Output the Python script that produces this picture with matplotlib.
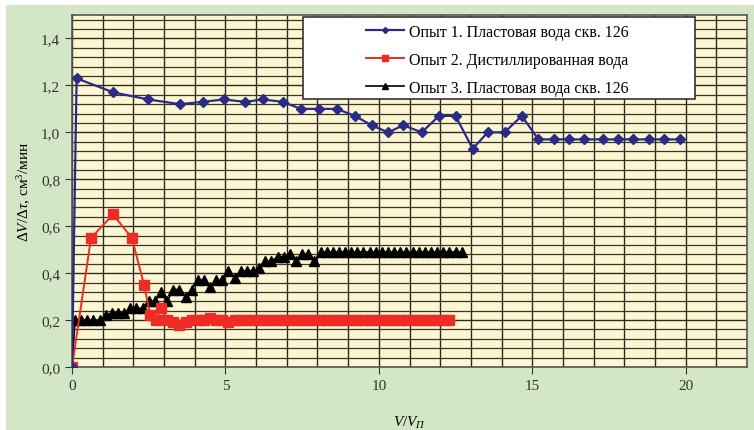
import numpy as np
import matplotlib.pyplot as plt
from matplotlib.patches import Rectangle

plt.rcParams['font.family'] = ['Liberation Serif', 'DejaVu Serif']
plt.rcParams['mathtext.fontset'] = 'custom'
plt.rcParams['mathtext.rm'] = 'Liberation Serif'
plt.rcParams['mathtext.it'] = 'Liberation Serif:italic'

# Опыт 1. Пластовая вода скв. 126
x1 = [0, 0.15, 1.35, 2.49, 3.52, 4.26, 4.95, 5.64, 6.22, 6.87, 7.46, 8.05, 8.63,
      9.22, 9.77, 10.3, 10.8, 11.4, 11.96, 12.5, 13.06, 13.55, 14.1, 14.66,
      15.2, 15.7, 16.2, 16.7, 17.3, 17.8, 18.3, 18.8, 19.3, 19.8]
y1 = [0, 1.23, 1.17, 1.14, 1.12, 1.13, 1.14, 1.13, 1.14, 1.13, 1.10, 1.10, 1.10,
      1.07, 1.03, 1.00, 1.03, 1.00, 1.07, 1.07, 0.93, 1.00, 1.00, 1.07,
      0.97, 0.97, 0.97, 0.97, 0.97, 0.97, 0.97, 0.97, 0.97, 0.97]

# Опыт 2. Дистиллированная вода
x2 = [0, 0.62, 1.34, 1.95, 2.35, 2.55, 2.75, 2.9,
      3.1, 3.3, 3.5, 3.7, 3.9, 4.1, 4.3, 4.5, 4.7, 4.9, 5.1, 5.3, 5.5, 5.7, 5.9,
      6.1, 6.3, 6.5, 6.7, 6.9, 7.1, 7.3, 7.5, 7.7, 7.9, 8.1, 8.3, 8.5, 8.7, 8.9,
      9.1, 9.3, 9.5, 9.7, 9.9, 10.1, 10.3, 10.5, 10.7, 10.9, 11.1, 11.3, 11.5,
      11.7, 11.9, 12.1, 12.3]
y2 = [0, 0.55, 0.65, 0.55, 0.35, 0.22, 0.20, 0.25,
      0.20, 0.19, 0.18, 0.19, 0.20, 0.20, 0.20, 0.21, 0.20, 0.20, 0.19, 0.20, 0.20, 0.20, 0.20,
      0.20, 0.20, 0.20, 0.20, 0.20, 0.20, 0.20, 0.20, 0.20, 0.20, 0.20, 0.20, 0.20, 0.20, 0.20,
      0.20, 0.20, 0.20, 0.20, 0.20, 0.20, 0.20, 0.20, 0.20, 0.20, 0.20, 0.20, 0.20,
      0.20, 0.20, 0.20, 0.20]

# Опыт 3. Пластовая вода скв. 126
x3 = [0, 0.1, 0.3, 0.5, 0.7, 0.9, 1.1, 1.3, 1.5, 1.7, 1.9, 2.1, 2.3, 2.5, 2.7,
      2.9, 3.1, 3.3, 3.5, 3.7, 3.9, 4.1, 4.3, 4.5, 4.7, 4.9, 5.1, 5.3, 5.5,
      5.7, 5.9, 6.1, 6.3, 6.5, 6.7, 6.9, 7.1, 7.3, 7.5, 7.7, 7.9, 8.1, 8.3,
      8.5, 8.7, 8.9, 9.1, 9.3, 9.5, 9.7, 9.9, 10.1, 10.3, 10.5, 10.7, 10.9,
      11.1, 11.3, 11.5, 11.7, 11.9, 12.1, 12.3, 12.5, 12.7]
y3 = [0, 0.20, 0.20, 0.20, 0.20, 0.20, 0.22, 0.23, 0.23, 0.23, 0.25, 0.25, 0.25, 0.28, 0.28,
      0.32, 0.28, 0.33, 0.33, 0.30, 0.33, 0.37, 0.37, 0.34, 0.37, 0.37, 0.41, 0.38, 0.41,
      0.41, 0.41, 0.42, 0.45, 0.45, 0.47, 0.47, 0.48, 0.45, 0.48, 0.48, 0.45, 0.49, 0.49,
      0.49, 0.49, 0.49, 0.49, 0.49, 0.49, 0.49, 0.49, 0.49, 0.49, 0.49, 0.49, 0.49,
      0.49, 0.49, 0.49, 0.49, 0.49, 0.49, 0.49, 0.49, 0.49]

labels = ['Опыт 1. Пластовая вода скв. 126',
          'Опыт 2. Дистиллированная вода',
          'Опыт 3. Пластовая вода скв. 126']

fig = plt.figure(figsize=(7.54, 4.31), dpi=100, facecolor='white')
fig.add_artist(Rectangle((6 / 754, 0), 1, 1 - 6 / 431, transform=fig.transFigure,
                         facecolor='#d3e7c6', edgecolor='none', zorder=-10))
ax = fig.add_axes([72 / 754, 1 - 368 / 431, 675 / 754, 352 / 431])
ax.set_facecolor('#fcf7d2')

ax.set_xlim(0, 22)
ax.set_ylim(0, 1.5)
ax.set_xticks([0, 5, 10, 15, 20])
ax.set_xticks(range(0, 23), minor=True)
ax.set_yticks([0, 0.2, 0.4, 0.6, 0.8, 1.0, 1.2, 1.4])
ax.set_yticks(np.arange(0, 1.5, 0.04), minor=True)
ax.set_yticklabels(['0,0', '0,2', '0,4', '0,6', '0,8', '1,0', '1,2', '1,4'])
ax.grid(which='minor', axis='x', color='#2e2a22', lw=1.0)
ax.grid(which='minor', axis='y', color='#3a3528', lw=0.9)
ax.grid(which='major', color='#2e2a22', lw=1.0)
ax.tick_params(which='minor', length=0)
ax.tick_params(which='major', length=5, direction='out', labelsize=11, colors='#333333')
for s in ax.spines.values():
    s.set_color('#555555')
    s.set_linewidth(1.2)
ax.set_axisbelow(True)

ax.plot(x3, y3, color='black', lw=1.2, marker='^', ms=6.5, label=labels[2], zorder=3)
ax.plot(x2, y2, color='#ee2b24', lw=1.4, marker='s', ms=7, label=labels[1], zorder=4)
ax.plot(x1, y1, color='#2b2b86', lw=1.6, marker='D', ms=5, label=labels[0], zorder=5)

# legend frame is wider than its content in the original
ax.add_patch(Rectangle((231 / 675, 268 / 352), 392 / 675, 82 / 352, transform=ax.transAxes,
                       facecolor='white', edgecolor='#333333', lw=1.2, zorder=6))
h, l = ax.get_legend_handles_labels()
leg = ax.legend(h[::-1], l[::-1], loc='center', bbox_to_anchor=(425 / 675, 307 / 352),
                fontsize=11.5, frameon=False, markerscale=0.6,
                handlelength=2.4, handletextpad=0.3, labelspacing=0.75)
leg.set_zorder(7)

ax.set_xlabel(r'$V/V_{П}$', fontsize=11, labelpad=16)
ax.set_ylabel(r'$\Delta V/\Delta\tau$, см$^3$/мин', fontsize=11, labelpad=6)

fig.savefig('out.png', dpi=100, facecolor=fig.get_facecolor())
